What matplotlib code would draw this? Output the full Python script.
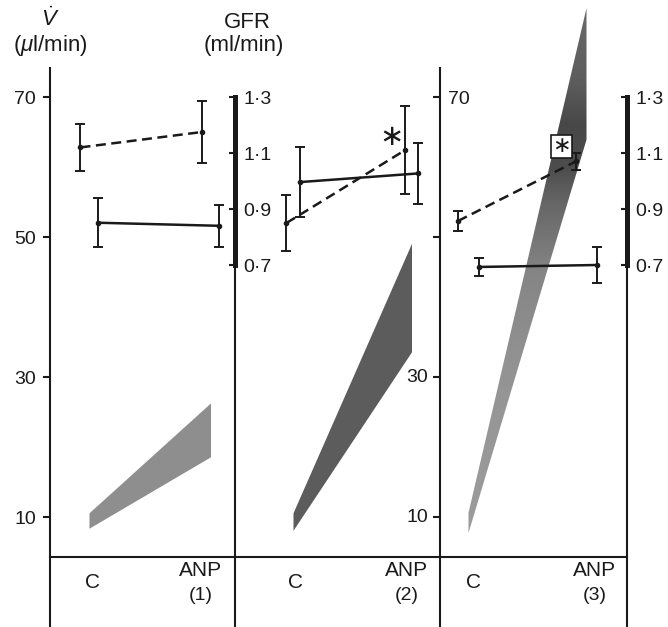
import matplotlib
matplotlib.use('Agg')
import matplotlib.pyplot as plt
import numpy as np
from matplotlib.patches import Polygon

plt.rcParams['font.family'] = ['Liberation Sans', 'DejaVu Sans']
plt.rcParams['mathtext.fontset'] = 'custom'
plt.rcParams['mathtext.it'] = 'Liberation Sans:italic'
plt.rcParams['mathtext.rm'] = 'Liberation Sans'

# ---------------- data ----------------
categories = ['C', 'ANP']
panel_tags = ['(1)', '(2)', '(3)']

# dashed series (GFR scale, ml/min): mean and error at C and ANP
dashed_mean = [[1.12, 1.175], [0.85, 1.11], [0.857, 1.07]]
dashed_err = [[0.084, 0.109], [0.10, 0.157], [0.037, 0.03]]
# solid series (GFR scale, ml/min)
solid_mean = [[0.851, 0.84], [0.996, 1.027], [0.693, 0.70]]
solid_err = [[0.088, 0.075], [0.125, 0.109], [0.032, 0.063]]
# V-dot band (ul/min): lower and upper edge at C and ANP
band_low = [[8.4, 18.6], [8.1, 33.6], [7.7, 63.9]]
band_high = [[10.6, 26.3], [10.6, 49.1], [10.6, 82.7]]
significant = [False, True, True]

v_ticks = [70, 50, 30, 10]
gfr_ticks = [1.3, 1.1, 0.9, 0.7]
gfr_ticklabels = ['1·3', '1·1', '0·9', '0·7']

# ---------------- layout ----------------
W, H = 668, 627
fig = plt.figure(figsize=(W / 100, H / 100), dpi=100)
fig.patch.set_facecolor('white')

# V scale: pixel row -> value
def v_of_px(y):
    return (587 - y) / 7.0

VLIM = (v_of_px(H), v_of_px(0))
V_AXIS_TOP = v_of_px(68)
V_BASE = v_of_px(557)

def g_of_v(v):
    return 1.3 + (v - 70) / 40.0

GLIM = (g_of_v(VLIM[0]), g_of_v(VLIM[1]))

# panel pixel extents and category centres
panel_px = [(50, 235), (235, 440), (440, 627)]
cat_px = [(89, 210.5), (293, 411.5), (468.5, 586.5)]
offsets = [0.07, 0.055, 0.09]
band_colors = ['#8e8e8e', '#5c5c5c', None]
c_lab_dx = [0.03, 0.025, 0.04]
anp_lab_dx = [-0.08, -0.04, 0.07]

INK = '#1a1a1a'
LW = 1.8
ALW = 1.5
TXT = 14

axes = []
for i in range(3):
    l, r = panel_px[i]
    c0, c1 = cat_px[i]
    span = c1 - c0
    ax = fig.add_axes([l / W, 0, (r - l) / W, 1])
    ax.set_xlim((l - c0) / span, (r - c0) / span)
    ax.set_ylim(*VLIM)
    ax.patch.set_alpha(0)
    for s in ax.spines.values():
        s.set_visible(False)
    ax.set_xticks([])
    ax.set_yticks([])
    gx = ax.twinx()
    gx.set_ylim(*GLIM)
    for s in gx.spines.values():
        s.set_visible(False)
    gx.set_xticks([])
    gx.set_yticks([])
    axes.append((ax, gx))

    xpos = np.arange(len(categories))
    # band
    if band_colors[i] is not None:
        ax.fill_between(xpos, band_low[i], band_high[i], color=band_colors[i],
                        lw=0, zorder=1)
    else:
        verts = [(0, band_low[i][0]), (1, band_low[i][1]),
                 (1, band_high[i][1]), (0, band_high[i][0])]
        poly = Polygon(verts, closed=True, fc='none', ec='none')
        ax.add_patch(poly)
        vv = np.linspace(VLIM[0], VLIM[1], 400)
        shade = np.interp(vv, [0, 30, 45, 55, 60, 66, 72, 84],
                          [0.62, 0.58, 0.52, 0.40, 0.30, 0.28, 0.36, 0.42])
        img = np.tile(shade[::-1, None], (1, 10))
        xl = ax.get_xlim()
        im = ax.imshow(img, cmap='gray', vmin=0, vmax=1, aspect='auto',
                       extent=[xl[0], xl[1], VLIM[0], VLIM[1]], zorder=1,
                       interpolation='bilinear')
        im.set_clip_path(poly)

    d = offsets[i]
    gx.errorbar(xpos - d, dashed_mean[i], yerr=dashed_err[i], color=INK,
                lw=LW, ls=(0, (4, 2.2)), elinewidth=1.4, capsize=3.5,
                capthick=1.4, marker='o', ms=3, zorder=5)
    gx.errorbar(xpos + d, solid_mean[i], yerr=solid_err[i], color=INK,
                lw=LW, ls='-', elinewidth=1.4, capsize=3.5, capthick=1.4,
                marker='o', ms=3, zorder=5)

    if significant[i]:
        if i == 1:
            gx.annotate('∗', xy=(1 - d, dashed_mean[i][1]),
                        xytext=(-13, 13), textcoords='offset pixels',
                        ha='center', va='center', fontsize=21,
                        family='DejaVu Sans', color=INK, zorder=6)
        else:
            gx.annotate('∗', xy=(1 - d, dashed_mean[i][1]),
                        xytext=(-14, 15), textcoords='offset pixels',
                        ha='center', va='center', fontsize=16,
                        family='DejaVu Sans', color=INK, zorder=6,
                        bbox=dict(boxstyle='square,pad=0.05', fc='white',
                                  ec=INK, lw=1.2))

    # category labels
    ax.text(0 + c_lab_dx[i], v_of_px(582), categories[0], ha='center',
            va='center', fontsize=15, color=INK)
    ax.text(1 + anp_lab_dx[i], v_of_px(571), categories[1], ha='center',
            va='center', fontsize=15, color=INK)
    ax.text(1 + anp_lab_dx[i], v_of_px(596), panel_tags[i], ha='center',
            va='center', fontsize=14, color=INK)

# ---------------- axes lines ----------------
ax1, g1 = axes[0]
ax2, g2 = axes[1]
ax3, g3 = axes[2]

# panel 1 left V axis
ax1.spines['left'].set_visible(True)
ax1.spines['left'].set_bounds(VLIM[0], V_AXIS_TOP)
ax1.spines['left'].set_linewidth(ALW)
ax1.spines['left'].set_color(INK)
ax1.set_yticks(v_ticks)
ax1.set_yticklabels([str(t) for t in v_ticks])
ax1.tick_params(axis='y', direction='out', length=5, width=ALW, pad=5,
                labelsize=TXT, colors=INK)

# GFR thick bars (panel 1 and panel 3)
for gx in (g1, g3):
    gx.spines['right'].set_visible(True)
    gx.spines['right'].set_bounds(min(gfr_ticks), max(gfr_ticks))
    gx.spines['right'].set_linewidth(3.6)
    gx.spines['right'].set_color(INK)
    gx.set_yticks(gfr_ticks)
    gx.set_yticklabels(gfr_ticklabels)
    gx.tick_params(axis='y', direction='in', length=4.5, width=ALW, pad=6,
                   labelsize=TXT, colors=INK)

# thin continuation of separators below the GFR bars
v07 = 70 + (min(gfr_ticks) - 1.3) * 40
for ax in (ax1, ax3):
    xr = ax.get_xlim()[1]
    ax.plot([xr, xr], [VLIM[0], v07], color=INK, lw=ALW,
            clip_on=False, zorder=3)

# panel 2 right V axis (shared with panel 3)
ax2.spines['right'].set_visible(True)
ax2.spines['right'].set_bounds(VLIM[0], V_AXIS_TOP)
ax2.spines['right'].set_linewidth(ALW)
ax2.spines['right'].set_color(INK)
ax2.yaxis.set_ticks_position('right')
ax2.set_yticks(v_ticks)
ax2.set_yticklabels([str(v_ticks[0])] + [''] * (len(v_ticks) - 1))
ax2.tick_params(axis='y', direction='in', length=5, width=ALW, pad=6,
                labelsize=TXT, colors=INK)
xr2 = ax2.get_xlim()[1]
for t in v_ticks[2:]:
    ax2.annotate(str(t), xy=(xr2, t), xytext=(-8.5, 0),
                 textcoords='offset points', ha='right', va='center',
                 fontsize=TXT, color=INK)

# baseline under the panels
for ax in (ax1, ax2, ax3):
    ax.axhline(V_BASE, color=INK, lw=ALW, zorder=3, clip_on=False)

# ---------------- headers ----------------
fig.text(50 / W, 1 - 31 / H, r'$\dot{V}$', ha='center', va='bottom',
         fontsize=16, color=INK)
fig.text(50 / W, 1 - 45 / H, r'($\mu$l/min)', ha='center', va='center',
         fontsize=16, color=INK)
fig.text(247 / W, 1 - 22 / H, 'GFR', ha='center', va='center',
         fontsize=16, color=INK)
fig.text(244 / W, 1 - 46 / H, '(ml/min)', ha='center', va='center',
         fontsize=16, color=INK)

fig.savefig('out.png', dpi=100, facecolor='white')
